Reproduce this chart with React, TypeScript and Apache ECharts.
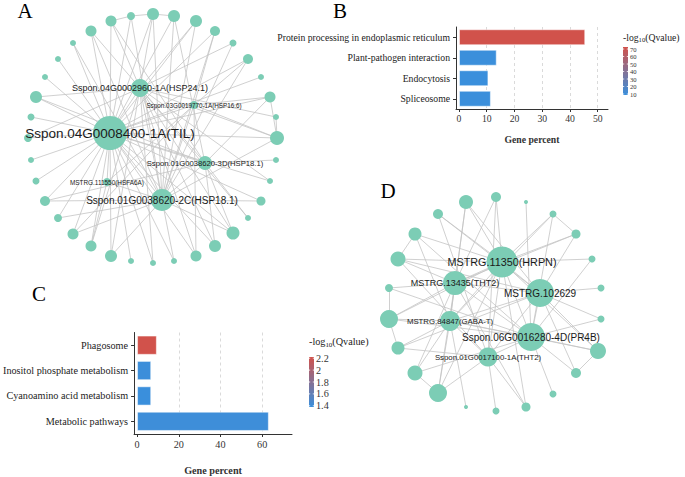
import React, { useEffect, useRef } from 'react';
import * as echarts from 'echarts';

const SANS = '"Liberation Sans", Arial, sans-serif';
const SERIF = '"Liberation Serif", "Times New Roman", serif';
const NODE = '#7ccdb5';
const EDGE = '#c4c4c4';
const RED = '#d1524b';
const BLUE = '#3a8fdc';

// ---------- Panel A network ----------
const aHubNames = ['Sspon.04G0008400-1A(TIL)', 'Sspon.04G0002960-1A(HSP24.1)', 'Sspon.03G0019770-1A(HSP16.6)', 'Sspon.01G0038620-3D(HSP18.1)', 'MSTRG.111550(HSFA6A)', 'Sspon.01G0038620-2C(HSP18.1)'];
const aHubKeys = ['T', 'H24', 'H16', 'D3', 'HSF', 'C2'];
const aHubX = [110, 140, 194, 205, 107, 162];
const aHubY = [133, 88, 105, 163, 182, 200];
const aHubSize = [34, 18, 8, 14, 8, 22];
const aHubFont = [13.5, 9, 6.3, 7.7, 6.4, 10];
const aOuterX = [131, 153, 174, 196, 215, 233, 248, 261, 270, 276, 277, 276, 270, 261, 248, 233, 215, 196, 174, 153, 131, 111, 91, 73, 58, 45, 36, 31, 28, 31, 36, 45, 58, 73, 91, 111];
const aOuterY = [16, 14, 16, 21, 31, 43, 59, 77, 97, 117, 138, 160, 181, 201, 218, 233, 246, 256, 261, 263, 261, 256, 246, 234, 218, 201, 181, 160, 138, 117, 97, 77, 59, 43, 31, 21];
const aOuterSize = [8, 12, 12, 12, 10, 7, 10, 6, 11, 6, 14, 6, 6, 9, 6, 13, 12, 11, 6, 6, 6, 12, 11, 11, 8, 10, 7, 6, 8, 7, 12, 6, 6, 6, 11, 11];
const aOuterLinks = ['T C2', 'T H24 C2', 'T C2 D3', 'T H24 C2', 'T H16 C2', 'H24 C2', 'T H16 C2', 'T', 'T H16 D3', 'H24', 'T H24 H16 C2', 'D3', 'T H24', 'T C2', 'D3 H24', 'T H24 D3 C2', 'T H24 D3', 'T H24 H16', 'T C2', 'T H24', 'T', 'T H24 C2', 'T H24 HSF', 'T H16 C2', 'T C2', 'T D3 C2', 'T', 'T', 'T H24', 'T', 'T H24 D3', 'T', 'T', 'T C2', 'T H24 C2', 'T H24 D3'];
const aHubLinks = [['T', 'H24'], ['T', 'H16'], ['T', 'D3'], ['T', 'HSF'], ['T', 'C2'], ['H24', 'C2'], ['H16', 'C2'], ['D3', 'C2'], ['HSF', 'C2'], ['H24', 'D3'], ['H16', 'HSF']];
const aRingLinks = [[35, 0], [0, 1], [1, 2], [8, 10], [9, 10]];

// ---------- Panel D network ----------
const dHubNames = ['MSTRG.11350(HRPN)', 'MSTRG.13435(THT2)', 'MSTRG.102629', 'MSTRG.84847(GABA-T)', 'Sspon.06G0016280-4D(PR4B)', 'Sspon.01G0017100-1A(THT2)'];
const dHubKeys = ['H', 'T', 'M', 'G', 'P', 'S'];
const dHubX = [502, 455, 540, 450, 531, 488];
const dHubY = [262, 283, 293, 321, 337, 357];
const dHubSize = [31, 24, 28, 20, 28, 19];
const dHubFont = [10.8, 9, 10, 7.8, 10, 7.8];
const dOuterX = [466, 496, 526, 553, 576, 592, 601, 601, 598, 576, 553, 526, 496, 466, 438, 415, 398, 389, 389, 398, 415, 438];
const dOuterY = [202, 197, 202, 214, 234, 259, 288, 319, 351, 373, 394, 407, 411, 407, 393, 373, 348, 319, 288, 259, 234, 214];
const dOuterSize = [14, 10, 4, 7, 9, 7, 7, 7, 16, 10, 7, 9, 7, 4, 18, 15, 13, 18, 8, 15, 13, 10];
const dOuterLinks = ['H T M G', 'H T S', 'P', 'H G P', 'H M T', 'H P', 'M', 'M P', 'H M P G', 'P M', 'P', 'H T S', 'S', 'G', 'T G S H', 'T G P', 'G S M', 'H T G P', 'T P', 'H T M S', 'H G P', 'H S M'];
const dHubLinks = [['H', 'T'], ['H', 'M'], ['H', 'G'], ['H', 'P'], ['H', 'S'], ['T', 'M'], ['T', 'G'], ['T', 'P'], ['M', 'G'], ['M', 'P'], ['M', 'S'], ['G', 'P'], ['G', 'S'], ['P', 'S']];
const dRingLinks = [[16, 17], [17, 18], [14, 15], [8, 9], [3, 4], [19, 20]];

// ---------- Panel B bars ----------
const bCategories = ['Protein processing in endoplasmic reticulum', 'Plant-pathogen interaction', 'Endocytosis', 'Spliceosome'];
const bGenePercent = [45.5, 13.6, 10.6, 11.5];
const bLogQ = [72.7, 9.0, 8.7, 9.2];
const bTicks = [0, 10, 20, 30, 40, 50];
const bLegendBreaks = [70, 60, 50, 40, 30, 20, 10];

// ---------- Panel C bars ----------
const cCategories = ['Phagosome', 'Inositol phosphate metabolism', 'Cyanoamino acid metabolism', 'Metabolic pathways'];
const cGenePercent = [9.5, 6.8, 6.8, 63.2];
const cLogQ = [2.22, 1.39, 1.38, 1.4];
const cTicks = [0, 20, 40, 60];
const cLegendBreaks = [2.2, 2, 1.8, 1.6, 1.4];

function buildGraph(hubNames: string[], hubKeys: string[], hubX: number[], hubY: number[], hubSize: number[], hubFont: number[],
  outerX: number[], outerY: number[], outerSize: number[], outerLinks: string[], hubLinks: string[][], ringLinks: number[][], prefix: string) {
  const nodes: any[] = [];
  outerX.forEach((x, i) => nodes.push({ name: prefix + i, x, y: outerY[i], symbolSize: outerSize[i], label: { show: false } }));
  hubNames.forEach((n, i) => nodes.push({ name: n, x: hubX[i], y: hubY[i], symbolSize: hubSize[i], label: { show: true, fontSize: hubFont[i] } }));
  const key: Record<string, string> = {};
  hubKeys.forEach((k, i) => { key[k] = hubNames[i]; });
  const links: any[] = [];
  outerLinks.forEach((s, i) => s.split(' ').forEach(k => links.push({ source: prefix + i, target: key[k] })));
  hubLinks.forEach(([a, b]) => links.push({ source: key[a], target: key[b] }));
  ringLinks.forEach(([a, b]) => links.push({ source: prefix + a, target: prefix + b }));
  return { nodes, links };
}

function legend(x: number, titleY: number, barY: number, barH: number, min: number, max: number, breaks: number[], fs: number, lfs: number) {
  const els: any[] = [];
  els.push({
    type: 'text', x, y: titleY,
    style: {
      text: '{a|-log}{s|10}{a|(Qvalue)}', textVerticalAlign: 'middle', verticalAlign: 'middle',
      rich: {
        a: { fontSize: fs, fontFamily: SERIF, fill: '#222', lineHeight: fs + 3 },
        s: { fontSize: fs * 0.68, fontFamily: SERIF, fill: '#222', lineHeight: fs * 0.68, verticalAlign: 'bottom' },
      },
    },
  });
  const w = 5;
  els.push({
    type: 'rect', shape: { x, y: barY, width: w, height: barH },
    style: { fill: new echarts.graphic.LinearGradient(0, 0, 0, 1, [{ offset: 0, color: RED }, { offset: 1, color: BLUE }]) },
  });
  breaks.forEach(v => {
    const yy = barY + (max - v) / (max - min) * barH;
    els.push({ type: 'line', shape: { x1: x, y1: yy, x2: x + 1.2, y2: yy }, style: { stroke: '#fff', lineWidth: 0.8 } });
    els.push({ type: 'line', shape: { x1: x + w - 1.2, y1: yy, x2: x + w, y2: yy }, style: { stroke: '#fff', lineWidth: 0.8 } });
    els.push({
      type: 'text', x: x + w + 2, y: yy,
      style: { text: String(v), fontSize: lfs, lineHeight: lfs, fontFamily: SERIF, fill: '#333', textVerticalAlign: 'middle', verticalAlign: 'middle' },
    });
  });
  return els;
}

function letter(t: string, x: number, y: number) {
  return { type: 'text', x, y, style: { text: t, fontSize: 21, fontFamily: SERIF, fill: '#000', textAlign: 'center', align: 'center', textVerticalAlign: 'middle', verticalAlign: 'middle' } };
}

function barAxes(grid: number, min: number, max: number, ticks: number[], fs: number, lblMargin: number, nameGap: number, cats: string[]) {
  const x = {
    gridIndex: grid, type: 'value', min, max,
    axisLine: { show: true, onZero: false, lineStyle: { color: '#333', width: 1 } },
    axisTick: { show: true, length: 3, customValues: ticks, lineStyle: { color: '#333' } },
    axisLabel: { customValues: ticks, fontSize: fs, fontFamily: SERIF, color: '#333', margin: lblMargin },
    splitLine: { show: false },
    name: 'Gene percent', nameLocation: 'middle', nameGap,
    nameTextStyle: { fontFamily: SERIF, fontWeight: 'bold', fontSize: fs, color: '#333' },
  };
  const y = {
    gridIndex: grid, type: 'category', data: cats, inverse: true,
    axisLine: { show: true, onZero: false, lineStyle: { color: '#333', width: 1 } },
    axisTick: { show: true, length: 3, alignWithLabel: true, lineStyle: { color: '#333' } },
    axisLabel: { fontSize: fs, fontFamily: SERIF, color: '#222', margin: 6 },
    splitLine: { show: false },
  };
  return { x, y };
}

function barSeries(idx: number, cats: string[], vals: number[], q: number[], grid: number[], gap: string) {
  return {
    type: 'bar', xAxisIndex: idx, yAxisIndex: idx,
    data: cats.map((c, i) => [vals[i], c, q[i]]),
    encode: { x: 0, y: 1 },
    barCategoryGap: gap,
    itemStyle: { borderColor: 'rgba(255,255,255,0.5)', borderWidth: 1 },
    emphasis: { disabled: true },
    markLine: {
      silent: true, symbol: ['none', 'none'], z: 1, animation: false,
      label: { show: false },
      lineStyle: { type: [3, 3], color: '#dadada', width: 1 },
      data: grid.map(v => ({ xAxis: v })),
    },
  };
}

export default function App() {
  const ref = useRef<HTMLDivElement>(null);
  useEffect(() => {
    if (!ref.current) return;
    const chart = echarts.init(ref.current, undefined, { renderer: 'svg' });
    const ga = buildGraph(aHubNames, aHubKeys, aHubX, aHubY, aHubSize, aHubFont, aOuterX, aOuterY, aOuterSize, aOuterLinks, aHubLinks, aRingLinks, 'a');
    const gd = buildGraph(dHubNames, dHubKeys, dHubX, dHubY, dHubSize, dHubFont, dOuterX, dOuterY, dOuterSize, dOuterLinks, dHubLinks, dRingLinks, 'd');
    const bAx = barAxes(0, -1.08, 53.7, bTicks, 9.7, 4, 25, bCategories);
    const cAx = barAxes(1, -1.43, 74.3, cTicks, 10.2, 5.5, 31, cCategories);
    const graphSeries = (g: any, box: any) => ({
      type: 'graph', layout: 'none', roam: false, silent: true, ...box,
      data: g.nodes, links: g.links,
      itemStyle: { color: NODE },
      lineStyle: { color: EDGE, width: 0.8, opacity: 1, curveness: 0 },
      label: { position: 'inside', color: '#1a1a1a', fontFamily: SANS },
      emphasis: { disabled: true },
    });
    const option: any = {
      animation: false,
      backgroundColor: '#fff',
      textStyle: { fontFamily: SERIF },
      grid: [
        { left: 456, top: 27, width: 152, height: 82, containLabel: false },
        { left: 133, top: 332.5, width: 159, height: 101.5, containLabel: false },
      ],
      xAxis: [bAx.x, cAx.x],
      yAxis: [bAx.y, cAx.y],
      visualMap: [
        { type: 'continuous', show: false, seriesIndex: 2, dimension: 2, min: 8.7, max: 72.7, inRange: { color: [BLUE, RED] } },
        { type: 'continuous', show: false, seriesIndex: 3, dimension: 2, min: 1.38, max: 2.22, inRange: { color: [BLUE, RED] } },
      ],
      series: [
        graphSeries(ga, { left: 28, top: 14, width: 249, height: 249 }),
        graphSeries(gd, { left: 389, top: 197, width: 212, height: 214 }),
        barSeries(0, bCategories, bGenePercent, bLogQ, [10, 20, 30, 40, 50], '22%'),
        barSeries(1, cCategories, cGenePercent, cLogQ, [20, 40, 60], '24%'),
      ],
      graphic: [
        letter('A', 25, 11),
        letter('B', 340, 11),
        letter('C', 39, 294),
        letter('D', 388, 191),
        ...legend(623, 37, 47, 48, 8.7, 72.7, bLegendBreaks, 9.7, 6.6),
        ...legend(309, 341, 357, 50, 1.38, 2.22, cLegendBreaks, 10.2, 10.2),
      ],
    };
    chart.setOption(option);
    return () => chart.dispose();
  }, []);
  return <div ref={ref} style={{ position: 'absolute', left: 0, top: 0, width: 685, height: 477 }} />;
}
